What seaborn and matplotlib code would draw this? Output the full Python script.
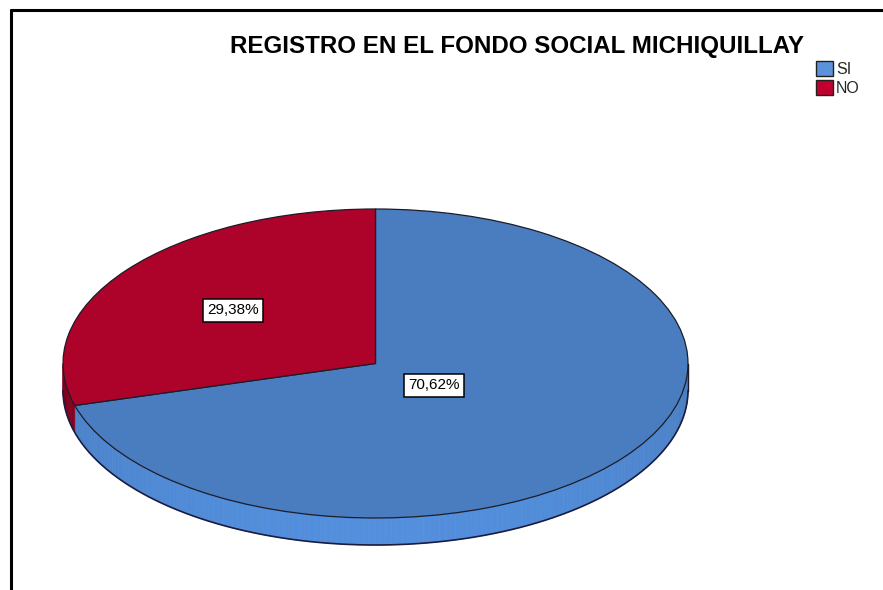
import numpy as np
import matplotlib
matplotlib.use("Agg")
import matplotlib.pyplot as plt
import seaborn as sns
from matplotlib.patches import Polygon, Patch
from matplotlib.lines import Line2D
import matplotlib.colors as mcolors

sns.set_theme(style="white")
plt.rcParams['font.family'] = ['Liberation Sans', 'DejaVu Sans']

title = "REGISTRO EN EL FONDO SOCIAL MICHIQUILLAY"
categories = ["SI", "NO"]
values = [70.62, 29.38]
labels = ["70,62%", "29,38%"]

top_colors = ["#4a7dc0", "#ad0229"]
legend_colors = ["#5b93da", "#c2002e"]
side_colors = ["#4f88d2", "#8a0020"]

W, H = 883, 590
fig = plt.figure(figsize=(W / 100, H / 100), dpi=100)
ax = fig.add_axes([0, 0, 1, 1])

# pixel geometry of the tilted pie
cx, cy, rx, ry, thick = 375.5, 363.5, 312.5, 154.5, 27
h = thick / ry

wedges, _ = ax.pie(values, colors=top_colors, startangle=90, counterclock=False,
                   radius=1.0, wedgeprops=dict(edgecolor="#1c1c28", linewidth=0.9))
for w in wedges:
    w.set_zorder(3)
ax.set_aspect("auto")
xmin = -cx / rx
ax.set_xlim(xmin, xmin + W / rx)
ymin = -(H - cy) / ry
ax.set_ylim(ymin, ymin + H / ry)
ax.axis("off")

# side wall (front half) derived from wedge angles
total = sum(values)
start = 90.0
for v, base in zip(values, side_colors):
    end = start - 360.0 * v / total
    lo, hi = end, start
    segs = []
    for shift in (-360, 0, 360):
        a0, a1 = max(lo + shift, 180), min(hi + shift, 360)
        if a1 > a0:
            segs.append((a0, a1))
    for a0, a1 in segs:
        n = max(int((a1 - a0) / 1.0), 2)
        angs = np.linspace(a0, a1, n + 1)
        for i in range(n):
            t0, t1 = np.radians(angs[i]), np.radians(angs[i + 1])
            mid = (t0 + t1) / 2
            shade = 0.55 + 0.45 * (-np.sin(mid))
            rgb = np.array(mcolors.to_rgb(base))
            col = np.clip(rgb * (0.75 + 0.3 * shade), 0, 1)
            pts = [(np.cos(t0), np.sin(t0)), (np.cos(t1), np.sin(t1)),
                   (np.cos(t1), np.sin(t1) - h), (np.cos(t0), np.sin(t0) - h)]
            ax.add_patch(Polygon(pts, closed=True, facecolor=col, edgecolor=col,
                                 linewidth=0.5, zorder=2))
    start = end

# outline of bottom rim
th = np.radians(np.linspace(180, 360, 200))
ax.plot(np.cos(th), np.sin(th) - h, color="#1c1c40", lw=1.2, zorder=2.5)
ax.plot([1, 1], [0, -h], color="#1c1c28", lw=1.0, zorder=2.5)

# percentage labels
dists = [0.235, 0.572]
start = 90.0
for v, lab, d in zip(values, labels, dists):
    end = start - 360.0 * v / total
    mid = np.radians((start + end) / 2)
    ax.text(d * np.cos(mid), d * np.sin(mid), lab, ha="center", va="center",
            fontsize=11, color="black", zorder=5,
            bbox=dict(boxstyle="square,pad=0.3", facecolor="white",
                      edgecolor="black", linewidth=1.1))
    start = end

fig.text(517.5 / W, 1 - 47 / H, title, ha="center", va="center",
         fontsize=17.4, fontweight="bold", color="black")

handles = [Patch(facecolor=c, edgecolor="#202020", linewidth=1.0) for c in legend_colors]
fig.legend(handles, categories, loc="upper left", bbox_to_anchor=(816 / W, 1 - 61 / H),
           frameon=False, fontsize=11.5, handlelength=1.05, handleheight=1.05,
           handletextpad=0.2, labelspacing=0.2, borderpad=0, borderaxespad=0)

# partial frame: top and left borders
fig.add_artist(Line2D([10.5 / W, 10.5 / W], [0, 1 - 10 / H], color="black", lw=2.2,
                      transform=fig.transFigure))
fig.add_artist(Line2D([10.5 / W, 1], [1 - 10 / H, 1 - 10 / H], color="black", lw=2.2,
                      transform=fig.transFigure))

fig.savefig("out.png", dpi=100, facecolor="white")
